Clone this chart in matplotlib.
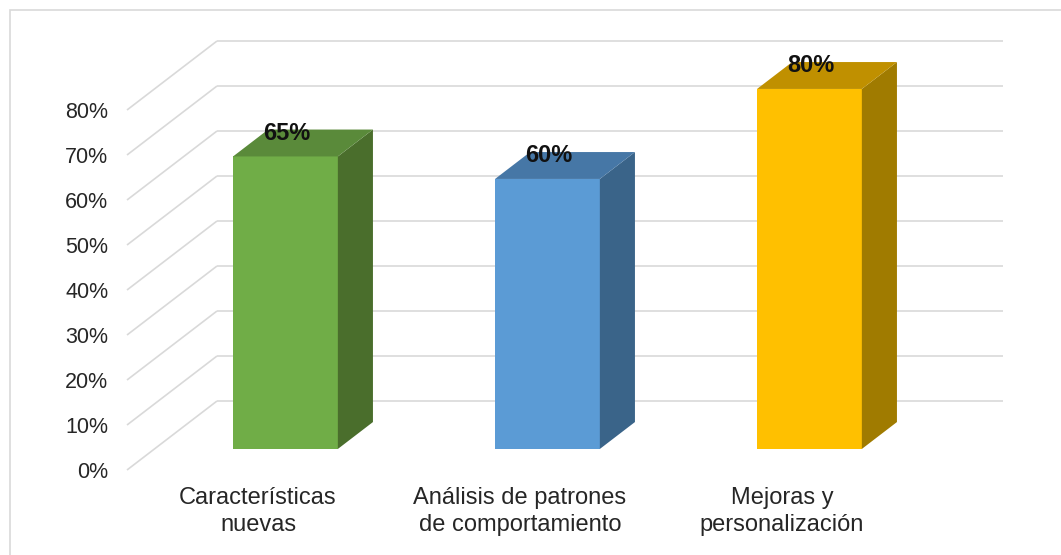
import numpy as np
import matplotlib
matplotlib.use('Agg')
import matplotlib.pyplot as plt
from matplotlib import transforms
from matplotlib.patches import Polygon, Rectangle
from matplotlib.collections import LineCollection

# data
categories = ['Características\nnuevas', 'Análisis de patrones\nde comportamiento', 'Mejoras y\npersonalización']
values = [0.65, 0.60, 0.80]
front_colors = ['#70AD47', '#5B9BD5', '#FFC000']
top_colors = ['#5A8A3A', '#4677A6', '#C09000']
side_colors = ['#4A6E2C', '#3A6489', '#A07B00']
ticks = np.arange(0, 0.81, 0.1)
tick_labels = [f'{int(round(t * 100))}%' for t in ticks]

DPI = 100
W, H = 1061, 555
DEPTH = np.array([90.0, 69.0])   # pixel offset of the back wall
Z_FRONT, Z_BACK = 0.305, 0.695   # bar depth inside the box
BAR_W = 0.4

plt.rcParams['font.family'] = ['Liberation Sans', 'DejaVu Sans']

fig = plt.figure(figsize=(W / DPI, H / DPI), dpi=DPI)
ax = fig.add_axes([127 / W, 85 / H, 786 / W, 360 / H])
ax.set_xlim(-0.5, len(values) - 0.5)
ax.set_ylim(0, 0.8)
ax.set_autoscale_on(False)
for s in ax.spines.values():
    s.set_visible(False)


def shift(z, dx=0, dy=0):
    # data transform pushed back into the depth of the box
    off = transforms.ScaledTranslation((z * DEPTH[0] + dx) / DPI, (z * DEPTH[1] + dy) / DPI,
                                       fig.dpi_scale_trans)
    return ax.transData + off


def proj(x, y, z):
    return ax.transData.transform((x, y)) + z * DEPTH


ident = transforms.IdentityTransform()

# back wall gridlines
ax.hlines(ticks, -0.5, len(values) - 0.5, transform=shift(1.0), colors='#d9d9d9',
          lw=1.2, clip_on=False, zorder=1)
# side wall gridlines
segs = [[proj(-0.5, t, 0), proj(-0.5, t, 1)] for t in ticks]
ax.add_collection(LineCollection(segs, colors='#d9d9d9', lw=1.2, transform=ident,
                                 clip_on=False, zorder=1))

# bars
x = np.arange(len(values))
ax.bar(x, values, width=BAR_W, color=front_colors, transform=shift(Z_FRONT),
       clip_on=False, zorder=3, linewidth=0)
for i, v in enumerate(values):
    side = [proj(i + BAR_W / 2, 0, Z_FRONT), proj(i + BAR_W / 2, 0, Z_BACK),
            proj(i + BAR_W / 2, v, Z_BACK), proj(i + BAR_W / 2, v, Z_FRONT)]
    top = [proj(i - BAR_W / 2, v, Z_FRONT), proj(i + BAR_W / 2, v, Z_FRONT),
           proj(i + BAR_W / 2, v, Z_BACK), proj(i - BAR_W / 2, v, Z_BACK)]
    ax.add_patch(Polygon(side, closed=True, facecolor=side_colors[i], edgecolor='none',
                         transform=ident, clip_on=False, zorder=3))
    ax.add_patch(Polygon(top, closed=True, facecolor=top_colors[i], edgecolor='none',
                         transform=ident, clip_on=False, zorder=3))
    ax.text(i, v, f'{int(round(v * 100))}%', transform=shift(Z_FRONT, 1, 23),
            ha='center', va='center', fontsize=17, fontweight='bold', color='#111111',
            zorder=5)

# axes labels
ax.set_yticks(ticks)
ax.set_yticklabels(tick_labels)
ax.set_xticks(x)
ax.set_xticklabels(categories, linespacing=1.25)
ax.tick_params(axis='y', length=0, pad=13.5, labelsize=15.5, labelcolor='#262626')
ax.tick_params(axis='x', length=0, pad=12.5, labelsize=17, labelcolor='#262626')

# chart frame
fig.add_artist(Rectangle((10 / W, -0.1), 1.2, 1 - 10 / H + 0.1, transform=fig.transFigure,
                         fill=False, edgecolor='#d9d9d9', lw=1.2))

fig.savefig('out.png', dpi=DPI)
